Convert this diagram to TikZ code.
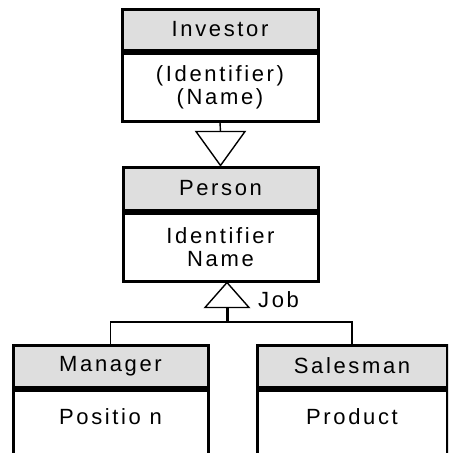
\documentclass[tikz,border=0pt]{standalone}
\usepackage{fontspec}
\setmainfont{Liberation Sans}[LetterSpace=12]
\usetikzlibrary{positioning}

\tikzset{
  tete/.style={draw, line width=3pt, fill=black!13, inner sep=0pt,
    font=\fontsize{22}{23}\selectfont},
  corps/.style={draw, line width=3pt, fill=white, inner sep=0pt, align=center,
    font=\fontsize{22}{23}\selectfont},
  lien/.style={line width=1.4pt},
  fleche/.style={line width=1.4pt, fill=white, line join=miter}
}

\begin{document}
\begin{tikzpicture}[x=1pt, y=-1pt]
        % Cadre de l'image (les classes du bas sont coupées)
        \useasboundingbox (0,0) rectangle (448,453);
        \clip (0,0) rectangle (448,453);

        % Classe Investor
        \node[tete, minimum width=196, minimum height=41] (invh) at (220,29.5) {Investor};
        \node[corps, minimum width=196, minimum height=68, below=0pt of invh] (invb) {(Identifier)\\(Name)};

        % Classe Person
        \node[tete, minimum width=195, minimum height=43] (persh) at (220.5,188.5) {Person};
        \node[corps, minimum width=195, minimum height=68, below=0pt of persh] (persb) {Identifier\\Name};

        % Sous-classes Manager et Salesman
        \node[tete, minimum width=195, minimum height=42] (mgrh) at (110.5,366) {Manager};
        \node[corps, minimum width=195, minimum height=90, below=0pt of mgrh] (mgrb) {};
        \node[tete, minimum width=190, minimum height=42] (salh) at (352,366) {Salesman};
        \node[corps, minimum width=190, minimum height=90, below=0pt of salh] (salb) {};
        \node[font=\fontsize{22}{23}\selectfont] (pos) at (110.5,417) {Positio n};
        \node[font=\fontsize{22}{23}\selectfont] (prod) at (352,417) {Product};

        % Generalisation Investor -> Person
        \coordinate (t1) at ([yshift=34pt]persh.north);
        \draw[lien] (invb.south) -- (t1);
        \draw[fleche] (persh.north) -- ([xshift=-24.5pt]t1) -- ([xshift=24.5pt]t1) -- cycle;

        % Generalisation Job : Manager, Salesman -> Person
        \coordinate (t2) at ([xshift=6.5pt]persb.south);
        \coordinate (t2b) at ([yshift=-25pt]t2);
        \coordinate (fourche) at (227,322);
        \draw[fleche] (t2) -- ([xshift=-22pt]t2b) -- ([xshift=22pt]t2b) -- cycle;
        \draw[line width=3pt] (t2b) -- (fourche);
        \draw[lien] (mgrh.north) |- (fourche) -| (salh.north);
        \node[anchor=base west, inner sep=0pt, font=\fontsize{22}{23}\selectfont] (job) at (258,307) {Job};
\end{tikzpicture}
\end{document}
